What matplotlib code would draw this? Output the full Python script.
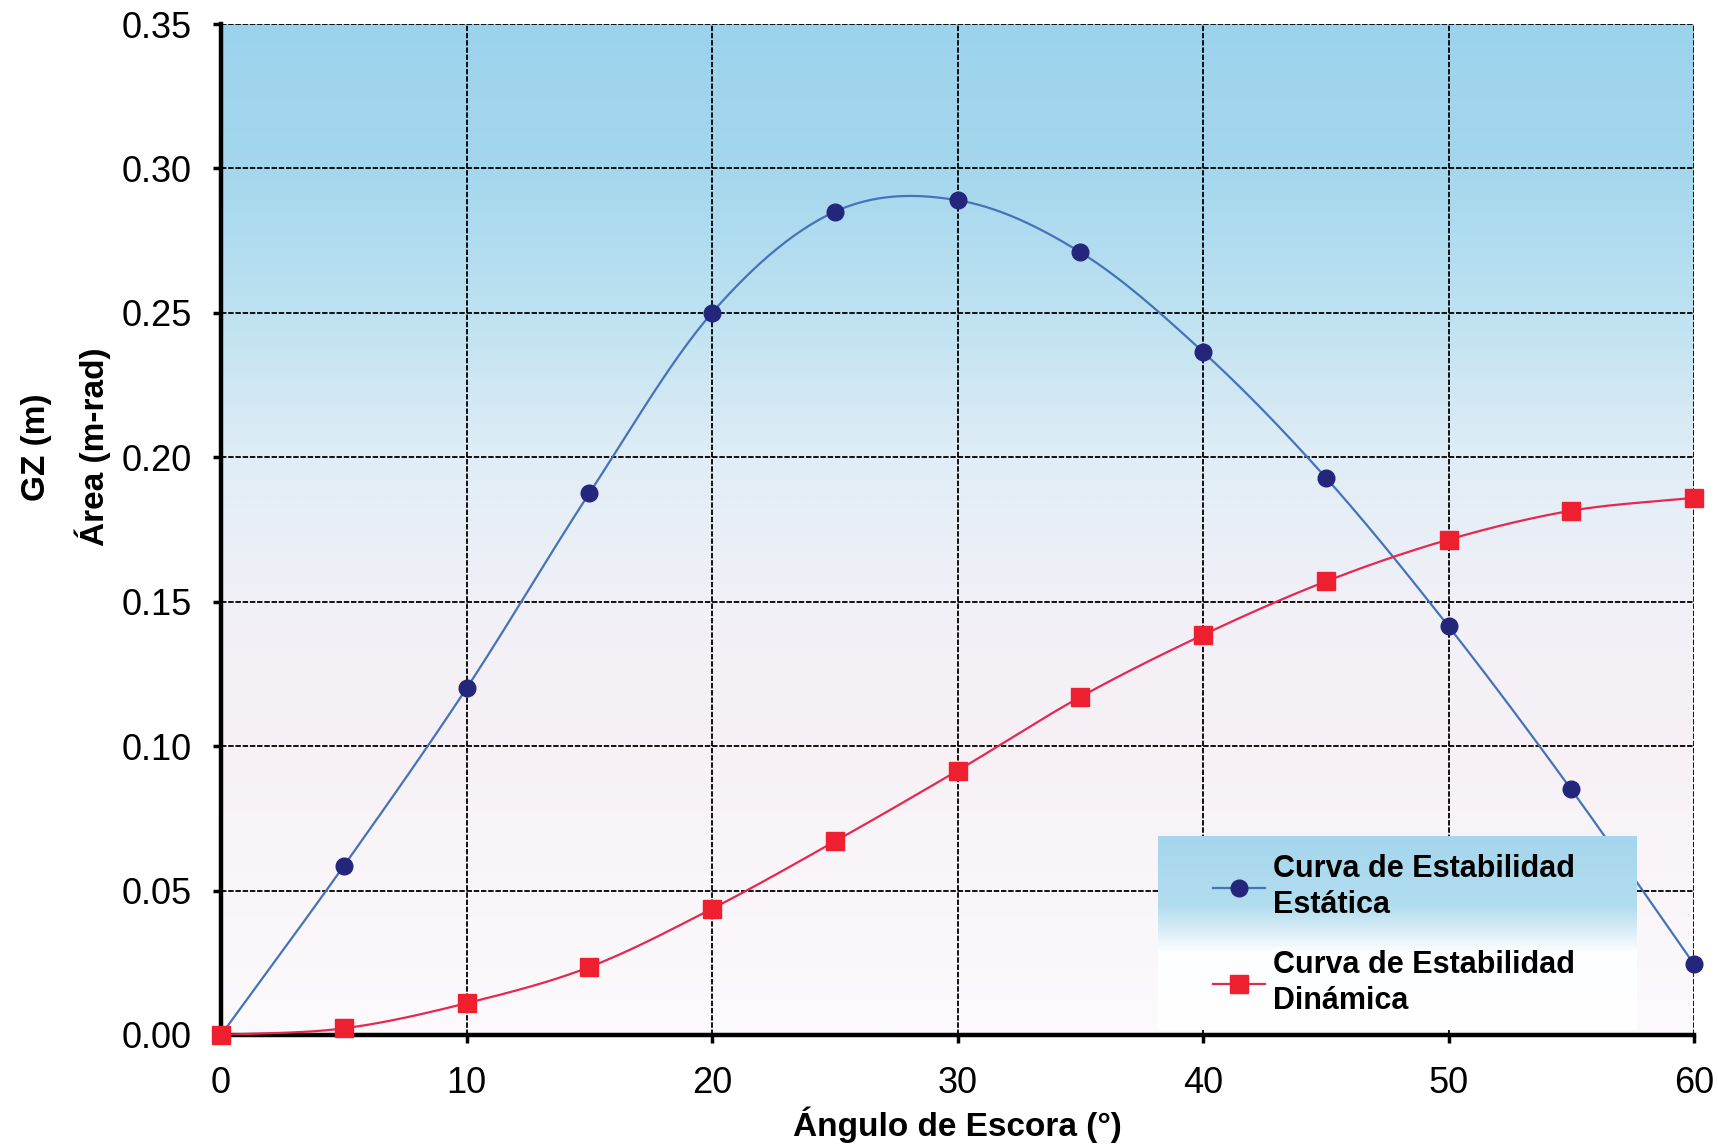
import numpy as np
import matplotlib
matplotlib.use("Agg")
import matplotlib.pyplot as plt
from matplotlib.colors import LinearSegmentedColormap

plt.rcParams['font.family'] = ['Liberation Sans', 'DejaVu Sans']

# Heel angle (degrees)
angles = [0, 5, 10, 15, 20, 25, 30, 35, 40, 45, 50, 55, 60]
# Righting arm GZ (m) - static stability
gz_static = [0.000, 0.0585, 0.120, 0.1875, 0.250, 0.285, 0.289, 0.271,
             0.2365, 0.193, 0.1415, 0.085, 0.0245]
# Area under GZ curve (m-rad) - dynamic stability
area_dynamic = [0.000, 0.0023, 0.011, 0.0235, 0.0437, 0.067, 0.0915, 0.117,
                0.1385, 0.157, 0.1715, 0.1815, 0.186]

x_ticks = [0, 10, 20, 30, 40, 50, 60]
y_ticks = [0.00, 0.05, 0.10, 0.15, 0.20, 0.25, 0.30, 0.35]

label_static = "Curva de Estabilidad\nEstática"
label_dynamic = "Curva de Estabilidad\nDinámica"


def smooth(x, y, n=30):
    """Catmull-Rom smoothing through the given points (spreadsheet style)."""
    x = np.asarray(x, float)
    y = np.asarray(y, float)
    px = np.concatenate([[2 * x[0] - x[1]], x, [2 * x[-1] - x[-2]]])
    py = np.concatenate([[2 * y[0] - y[1]], y, [2 * y[-1] - y[-2]]])
    xs, ys = [], []
    t = np.linspace(0, 1, n, endpoint=False)
    for i in range(1, len(px) - 2):
        for arr, out in ((px, xs), (py, ys)):
            p0, p1, p2, p3 = arr[i - 1], arr[i], arr[i + 1], arr[i + 2]
            m1 = (p2 - p0) / 2.0
            m2 = (p3 - p1) / 2.0
            h00 = 2 * t**3 - 3 * t**2 + 1
            h10 = t**3 - 2 * t**2 + t
            h01 = -2 * t**3 + 3 * t**2
            h11 = t**3 - t**2
            out.extend(h00 * p1 + h10 * m1 + h01 * p2 + h11 * m2)
    xs.append(x[-1])
    ys.append(y[-1])
    return np.array(xs), np.array(ys)


W, H = 1718, 1148
fig = plt.figure(figsize=(W / 100, H / 100), dpi=100)
fig.patch.set_facecolor('white')

left, right, top, bottom = 221, 1694, 24, 1035
ax = fig.add_axes([left / W, 1 - bottom / H, (right - left) / W, (bottom - top) / H])

ax.set_xlim(0, 60)
ax.set_ylim(0, 0.35)

# Vertical background gradient: sky blue at the top fading to near white
stops = [(0.00, (252, 250, 252)), (0.10 / 0.35, (247, 241, 246)),
         (0.15 / 0.35, (241, 240, 247)), (0.20 / 0.35, (224, 237, 246)),
         (0.25 / 0.35, (190, 226, 241)), (0.30 / 0.35, (164, 215, 238)),
         (1.00, (156, 211, 236))]
bg_cmap = LinearSegmentedColormap.from_list(
    'bg', [(p, tuple(c / 255 for c in col)) for p, col in stops])
grad = np.linspace(0, 1, 512).reshape(-1, 1)
ax.imshow(grad, cmap=bg_cmap, aspect='auto', origin='lower',
          extent=[0, 60, 0, 0.35], zorder=0, interpolation='bilinear')

ax.set_xticks(x_ticks)
ax.set_yticks(y_ticks)
ax.set_yticklabels([f"{v:.2f}" for v in y_ticks])
ax.grid(True, color='black', linestyle=(0, (3, 1)), linewidth=1.3, zorder=1)
ax.set_axisbelow(False)

for s in ('top', 'right'):
    ax.spines[s].set_visible(False)
for s in ('left', 'bottom'):
    ax.spines[s].set_linewidth(3.2)
    ax.spines[s].set_color('black')
    ax.spines[s].set_zorder(2)

ax.tick_params(axis='both', direction='out', length=6, width=2.5,
               labelsize=26, color='black')
ax.tick_params(axis='y', pad=15)
ax.tick_params(axis='x', pad=16)

xs, ys = smooth(angles, gz_static)
ax.plot(xs, ys, color='#4573b9', linewidth=1.6, zorder=3)
ax.plot(angles, gz_static, linestyle='none', marker='o', markersize=12,
        color='#23267a', zorder=4, clip_on=False)

xd, yd = smooth(angles, area_dynamic)
ax.plot(xd, yd, color='#e62850', linewidth=1.6, zorder=3)
ax.plot(angles, area_dynamic, linestyle='none', marker='s', markersize=12.5,
        color='#ee2030', zorder=4, clip_on=False)

ax.set_xlabel("Ángulo de Escora (°)", fontsize=24, fontweight='bold', labelpad=4)

fig.text(36 / W, 1 - 447 / H, "GZ (m)", rotation=90, fontsize=24,
         fontweight='bold', ha='center', va='center')
fig.text(93 / W, 1 - 447 / H, "Área (m-rad)", rotation=90, fontsize=24,
         fontweight='bold', ha='center', va='center')

# Legend panel with its own blue-to-white fill
lx0, lx1, ly0, ly1 = 1158, 1637, 836, 1030
lax = fig.add_axes([lx0 / W, 1 - ly1 / H, (lx1 - lx0) / W, (ly1 - ly0) / H])
lstops = [(0.0, (255, 255, 255)), (0.40, (253, 254, 255)),
          (0.52, (215, 236, 246)), (0.64, (178, 221, 239)),
          (1.0, (165, 214, 237))]
leg_cmap = LinearSegmentedColormap.from_list(
    'leg', [(p, tuple(c / 255 for c in col)) for p, col in lstops])
lax.imshow(grad, cmap=leg_cmap, aspect='auto', origin='lower',
           extent=[0, 1, 0, 1], interpolation='bilinear')
lax.set_xlim(0, 1)
lax.set_ylim(0, 1)
lax.axis('off')

h_static, = lax.plot([], [], color='#4573b9', linewidth=1.6, marker='o',
                     markersize=12, markerfacecolor='#23267a',
                     markeredgecolor='#23267a')
h_dynamic, = lax.plot([], [], color='#e62850', linewidth=1.6, marker='s',
                      markersize=12.5, markerfacecolor='#ee2030',
                      markeredgecolor='#ee2030')
leg = lax.legend([h_static, h_dynamic], [label_static, label_dynamic],
                 loc='upper left', bbox_to_anchor=(0.09, 0.97), frameon=False,
                 prop={'size': 22, 'weight': 'bold'}, handlelength=1.7,
                 handletextpad=0.25, labelspacing=0.95, borderaxespad=0)
for t in leg.get_texts():
    t.set_linespacing(1.28)

fig.savefig('out.png', dpi=100, facecolor='white')
